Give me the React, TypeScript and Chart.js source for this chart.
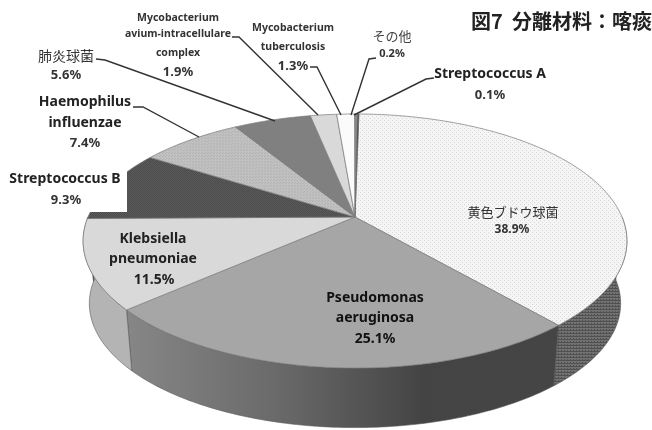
import React, { useEffect, useRef } from "react";
import { Chart, registerables } from "chart.js";

Chart.register(...registerables);

const categories = [
  "黄色ブドウ球菌",
  "Pseudomonas aeruginosa",
  "Klebsiella pneumoniae",
  "Streptococcus B",
  "Haemophilus influenzae",
  "肺炎球菌",
  "Mycobacterium avium-intracellulare complex",
  "Mycobacterium tuberculosis",
  "その他",
  "Streptococcus A",
];
const percentages = [38.9, 25.1, 11.5, 9.3, 7.4, 5.6, 1.9, 1.3, 0.2, 0.1];
const titleText = "図7  分離材料：喀痰";

// layout of the projected disc
const CX = 355, CY = 217, A = 267, B = 122.5, K = 0.189, DEPTH = 63, SHRINK = 0.977;
const project = (th: number, r = 1, low = false) => {
  const u = r * Math.cos(th), v = r * Math.sin(th), w = 1 - K * v;
  const s = low ? SHRINK : 1;
  return [CX + (s * A * u) / w, CY + (low ? DEPTH : 0) + (s * B * v) / w];
};

const LATIN = '"Noto Sans", sans-serif';
const CJK = '"Noto Sans CJK JP", sans-serif';
type L = [string, number, number, string, string, string];
const sliceLabels: L[] = [
  ["Mycobacterium", 178, 18, "bold 10.5px", LATIN, "#333"],
  ["avium-intracellulare", 178, 34, "bold 10.5px", LATIN, "#333"],
  ["complex", 178, 53, "bold 10.5px", LATIN, "#333"],
  ["1.9%", 178, 72, "bold 13px", LATIN, "#333"],
  ["Mycobacterium", 293, 28, "bold 10.5px", LATIN, "#333"],
  ["tuberculosis", 293, 47, "bold 10.5px", LATIN, "#333"],
  ["1.3%", 293, 66, "bold 13px", LATIN, "#333"],
  ["肺炎球菌", 66, 56, "normal 14px", CJK, "#333"],
  ["5.6%", 66, 75, "bold 13px", LATIN, "#333"],
  ["Haemophilus", 85, 102, "bold 14px", LATIN, "#222"],
  ["influenzae", 85, 123, "bold 14px", LATIN, "#222"],
  ["7.4%", 85, 143, "bold 13px", LATIN, "#333"],
  ["Streptococcus B", 65, 179, "bold 14px", LATIN, "#222"],
  ["9.3%", 66, 200, "bold 13px", LATIN, "#333"],
  ["その他", 392, 36, "normal 13px", CJK, "#444"],
  ["0.2%", 392, 54, "bold 11px", LATIN, "#333"],
  ["Streptococcus A", 490, 74, "bold 14px", LATIN, "#222"],
  ["0.1%", 490, 95, "bold 13px", LATIN, "#333"],
  ["黄色ブドウ球菌", 513, 212, "normal 13px", CJK, "#333"],
  ["38.9%", 512, 230, "bold 12px", LATIN, "#333"],
  ["Klebsiella", 153, 239, "bold 14px", LATIN, "#222"],
  ["pneumoniae", 153, 259, "bold 14px", LATIN, "#222"],
  ["11.5%", 154, 280, "bold 14px", LATIN, "#222"],
  ["Pseudomonas", 375, 298, "bold 14px", LATIN, "#111"],
  ["aeruginosa", 375, 318, "bold 14px", LATIN, "#111"],
  ["25.1%", 375, 339, "bold 14px", LATIN, "#111"],
];
const leaders: number[][][] = [
  [[232, 37], [239, 37], [318, 115]],
  [[96, 59], [105, 60], [275, 121]],
  [[133, 107], [143, 107], [199, 137]],
  [[310, 67], [317, 67], [341, 115]],
  [[376, 58], [369, 59], [351, 115]],
  [[434, 78], [426, 79], [354, 115]],
];

const makePattern = (bg: string, fg: string, size: number, cells: number[][]) => {
  const c = document.createElement("canvas");
  c.width = size; c.height = size;
  const g = c.getContext("2d")!;
  g.fillStyle = bg; g.fillRect(0, 0, size, size);
  g.fillStyle = fg;
  cells.forEach(([x, y]) => g.fillRect(x, y, 1, 1));
  return g.createPattern(c, "repeat")!;
};

export default function App() {
  const ref = useRef<HTMLCanvasElement>(null);
  useEffect(() => {
    const canvas = ref.current!;
    const ctx0 = canvas.getContext("2d")!;
    const topDots = makePattern("#f5f5f5", "#d6d6d6", 4, [[0, 0], [2, 2]]);
    const wallDots = makePattern("#727272", "#505050", 3, [[0, 0], [1, 0], [2, 0], [0, 2]]);
    const darkDots = makePattern("#5a5a5a", "#4c4c4c", 2, [[0, 0], [1, 1]]);
    const midDots = makePattern("#c0c0c0", "#b2b2b2", 3, [[0, 0], [1, 2]]);
    const wallGrad = ctx0.createLinearGradient(128, 0, 550, 0);
    wallGrad.addColorStop(0, "#868686");
    wallGrad.addColorStop(0.35, "#6a6a6a");
    wallGrad.addColorStop(0.7, "#444444");
    wallGrad.addColorStop(1, "#454545");
    const topColors = [topDots, "#a6a6a6", "#d9d9d9", darkDots, midDots, "#808080", "#d9d9d9", "#fbfbfb", "#8a8a8a", "#262626"];
    const wallColors: any[] = [wallDots, wallGrad, "#b4b4b4", "#444", "#999", "#666", "#aaa", "#ccc", "#666", "#222"];

    const trace = (ctx: CanvasRenderingContext2D, a0: number, a1: number, low = false, first = true) => {
      const n = Math.max(2, Math.ceil(Math.abs(a1 - a0) * 60));
      for (let i = 0; i <= n; i++) {
        const p = project(a0 + ((a1 - a0) * i) / n, 1, low);
        if (i === 0 && first) ctx.moveTo(p[0], p[1]);
        else ctx.lineTo(p[0], p[1]);
      }
    };

    const pie3d = {
      id: "pie3d",
      beforeDatasetsDraw(chart: any) {
        const ctx = chart.ctx as CanvasRenderingContext2D;
        const arcs = chart.getDatasetMeta(0).data;
        arcs.forEach((arc: any, i: number) => {
          const a0 = Math.max(arc.startAngle, 0);
          const a1 = Math.min(arc.endAngle, Math.PI);
          if (a1 > a0) {
            ctx.save();
            ctx.beginPath();
            trace(ctx, a0, a1);
            trace(ctx, a1, a0, true, false);
            ctx.closePath();
            ctx.fillStyle = wallColors[i];
            ctx.fill();
            ctx.strokeStyle = "#555";
            ctx.lineWidth = 0.6;
            ctx.stroke();
            ctx.restore();
          }
          arc.draw = function (c: CanvasRenderingContext2D) {
            const o = this.options;
            c.save();
            c.beginPath();
            const m = project(0, 0);
            c.moveTo(m[0], m[1]);
            trace(c, this.startAngle, this.endAngle, false, false);
            c.closePath();
            c.fillStyle = o.backgroundColor;
            c.fill();
            c.strokeStyle = o.borderColor;
            c.lineWidth = o.borderWidth;
            c.stroke();
            c.restore();
          };
        });
      },
      afterDatasetsDraw(chart: any) {
        const ctx = chart.ctx as CanvasRenderingContext2D;
        ctx.save();
        ctx.fillStyle = "#fff";
        ctx.fillRect(0, 165, 127, 47);
        ctx.strokeStyle = "#333";
        ctx.lineWidth = 1.4;
        leaders.forEach((pts) => {
          ctx.beginPath();
          pts.forEach((p, i) => (i ? ctx.lineTo(p[0], p[1]) : ctx.moveTo(p[0], p[1])));
          ctx.stroke();
        });
        ctx.textAlign = "center";
        ctx.textBaseline = "middle";
        sliceLabels.forEach(([t, x, y, font, fam, col]) => {
          ctx.font = `${font} ${fam}`;
          ctx.fillStyle = col;
          ctx.fillText(t, x, y);
        });
        ctx.restore();
      },
    };

    const chart = new Chart(canvas, {
      type: "pie",
      data: {
        labels: categories,
        datasets: [
          {
            data: percentages,
            backgroundColor: topColors as any,
            borderColor: "#7a7a7a",
            borderWidth: 0.7,
            clip: false,
          } as any,
        ],
      },
      options: {
        animation: false,
        responsive: false,
        rotation: 1,
        events: [],
        layout: { padding: 0 },
        plugins: {
          legend: { display: false },
          tooltip: { enabled: false },
          title: {
            display: true,
            text: titleText,
            align: "end",
            color: "#222",
            font: { size: 20, weight: "bold", family: CJK },
            padding: { top: 9, bottom: 0 },
          },
        },
      },
      plugins: [pie3d],
    });
    return () => chart.destroy();
  }, []);
  return (
    <div style={{ position: "absolute", left: 0, top: 0, width: 652, height: 430, background: "#fff" }}>
      <canvas ref={ref} width={652} height={430} style={{ display: "block", filter: "blur(0.5px)" }} />
    </div>
  );
}
